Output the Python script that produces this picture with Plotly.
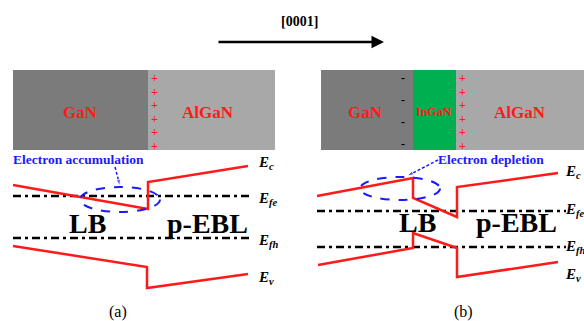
import plotly.graph_objects as go

# ---- schematic data (pixel-like schematic coordinates) ----
# panel (a)
a_ec_x = [13, 148, 148, 248]
a_ec_y = [185, 209, 182, 166]
a_ev_x = [13, 147, 147, 248]
a_ev_y = [246, 267, 288, 274]
a_efe = 196
a_efh = 238
a_fermi_x = [13, 252]
# panel (b)
b_ec_x = [317, 413, 413, 457, 457, 558]
b_ec_y = [196, 178, 198, 217, 187, 173]
b_ev_x = [318, 413, 413, 457, 457, 558]
b_ev_y = [265, 248, 233, 248, 277, 262]
b_efe = 211
b_efh = 247
b_fermi_x = [317, 566]

level_labels = ["E<sub>c</sub>", "E<sub>fe</sub>", "E<sub>fh</sub>", "E<sub>v</sub>"]
a_label_y = [163, 199, 241, 278]
b_label_y = [172, 210, 247, 275]

RED = "#ff1a1a"
BLUE = "#1a1aff"
SERIF = "Liberation Serif, Times New Roman, serif"

fig = go.Figure()

def band(x, y):
    fig.add_trace(go.Scatter(x=x, y=y, mode="lines", line=dict(color=RED, width=2.5),
                             hoverinfo="skip", showlegend=False))

def fermi(xr, y):
    fig.add_trace(go.Scatter(x=xr, y=[y, y], mode="lines",
                             line=dict(color="black", width=2.5, dash="8px,4px,3px,4px"),
                             hoverinfo="skip", showlegend=False))

fermi(a_fermi_x, a_efe)
fermi(a_fermi_x, a_efh)
fermi(b_fermi_x, b_efe)
fermi(b_fermi_x, b_efh)
band(a_ec_x, a_ec_y)
band(a_ev_x, a_ev_y)
band(b_ec_x, b_ec_y)
band(b_ev_x, b_ev_y)

shapes = []
# layer boxes
shapes.append(dict(type="rect", x0=13, x1=148, y0=70, y1=150, fillcolor="#7b7b7b", line_width=0, layer="below"))
shapes.append(dict(type="rect", x0=148, x1=275, y0=70, y1=150, fillcolor="#a8a8a8", line_width=0, layer="below"))
shapes.append(dict(type="rect", x0=321, x1=413, y0=70, y1=150, fillcolor="#7b7b7b", line_width=0, layer="below"))
shapes.append(dict(type="rect", x0=413, x1=456, y0=70, y1=150, fillcolor="#00b050", line_width=0, layer="below"))
shapes.append(dict(type="rect", x0=456, x1=584, y0=70, y1=150, fillcolor="#a8a8a8", line_width=0, layer="below"))
# ellipses
shapes.append(dict(type="circle", x0=80, x1=160, y0=187, y1=212, line=dict(color=BLUE, width=2, dash="dash")))
shapes.append(dict(type="circle", x0=360, x1=440, y0=177, y1=200, line=dict(color=BLUE, width=2, dash="dash")))

# dashed pointer arrows
fig.add_trace(go.Scatter(x=[115, 120], y=[167, 186], mode="lines+markers",
                         line=dict(color=BLUE, width=1.5, dash="3px,2px"),
                         marker=dict(symbol=["circle", "arrow"], size=[0, 7], color=BLUE, angleref="previous"),
                         hoverinfo="skip", showlegend=False))
fig.add_trace(go.Scatter(x=[438, 407], y=[160, 176], mode="lines+markers",
                         line=dict(color=BLUE, width=1.5, dash="3px,2px"),
                         marker=dict(symbol=["circle", "arrow"], size=[0, 7], color=BLUE, angleref="previous"),
                         hoverinfo="skip", showlegend=False))

ann = []
def txt(x, y, t, size, color="black", bold=True, italic=False, xanchor="center"):
    s = t
    if italic:
        s = "<i>" + s + "</i>"
    if bold:
        s = "<b>" + s + "</b>"
    ann.append(dict(x=x, y=y, text=s, showarrow=False, xanchor=xanchor, yanchor="middle",
                    font=dict(family=SERIF, size=size, color=color)))

txt(80, 112, "GaN", 17, RED)
txt(208, 112, "AlGaN", 17, RED)
txt(365, 112, "GaN", 17, RED)
txt(434, 112, "InGaN", 12, RED)
txt(520, 112, "AlGaN", 17, RED)
for yy in [78, 92, 105, 119, 132, 146]:
    txt(154, yy, "+", 12, RED)
    txt(462, yy, "+", 12, RED)
for yy in [79, 101, 123, 145]:
    txt(403, yy - 1, "-", 12, "black")

txt(78, 159, "Electron accumulation", 13.5, BLUE)
txt(491, 159, "Electron depletion", 13.5, BLUE)
txt(87, 223, "LB", 28)
txt(207, 223, "p-EBL", 28)
txt(417, 222, "LB", 28)
txt(516, 222, "p-EBL", 28)
for lab, ya, yb in zip(level_labels, a_label_y, b_label_y):
    txt(256, ya, lab, 15, italic=True, xanchor="left")
    txt(563, yb, lab, 15, italic=True, xanchor="left")
txt(118, 312, "(a)", 16, bold=False)
txt(463, 312, "(b)", 16, bold=False)
txt(299, 21, "[0001]", 14)

# direction arrow
ann.append(dict(x=384, y=42, ax=217, ay=42, xref="x", yref="y", axref="x", ayref="y",
                showarrow=True, arrowhead=2, arrowsize=1, arrowwidth=2.5, arrowcolor="black", text=""))

fig.update_layout(width=584, height=321, margin=dict(l=0, r=0, t=0, b=0),
                  plot_bgcolor="white", paper_bgcolor="white",
                  xaxis=dict(range=[0, 584], visible=False, fixedrange=True),
                  yaxis=dict(range=[321, 0], visible=False, fixedrange=True),
                  shapes=shapes, annotations=ann, showlegend=False)
fig.write_html("out.html", config={"displayModeBar": False, "staticPlot": True},
               post_script="document.body.style.margin='0';document.body.style.overflow='hidden';")
